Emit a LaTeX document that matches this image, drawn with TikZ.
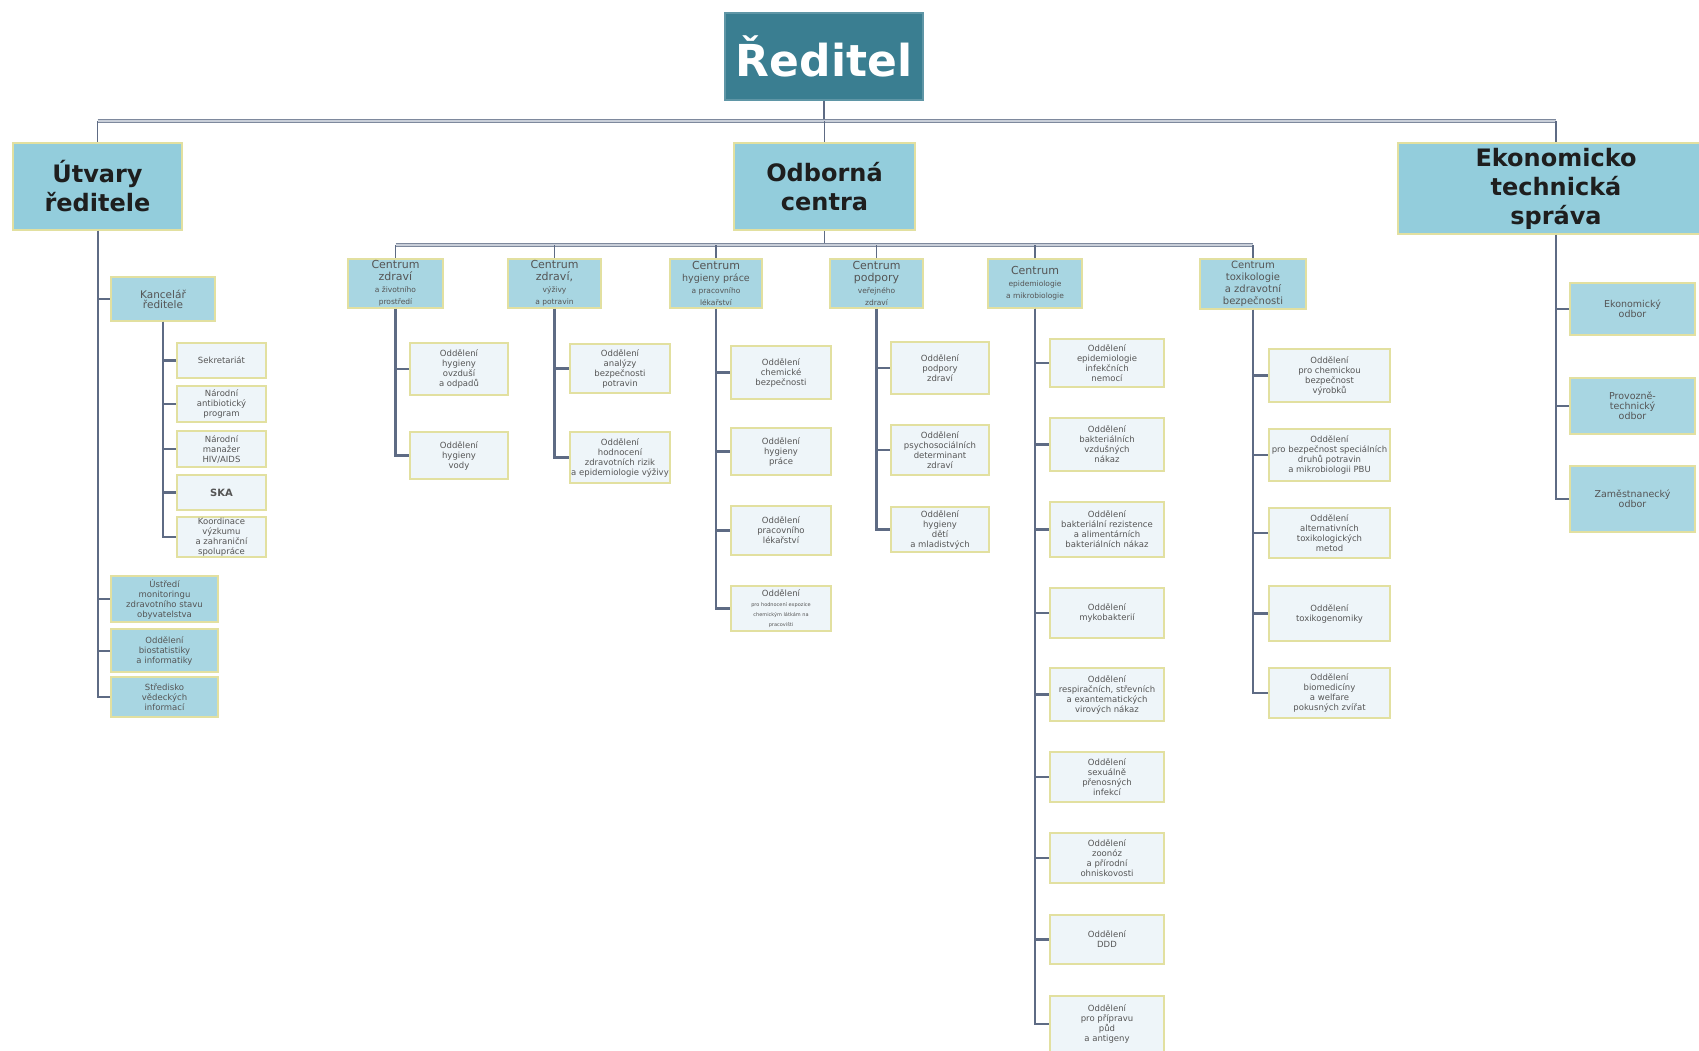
\documentclass[tikz,border=0pt]{standalone}
\usepackage{fontspec}
\setmainfont{DejaVu Sans}
\newcommand\myfs[2]{\fontsize{#1}{#2}\selectfont}
\definecolor{topfill}{HTML}{3A7E91}
\definecolor{topedge}{HTML}{5F96A6}
\definecolor{lvfill}{HTML}{93CDDC}
\definecolor{midfill}{HTML}{A8D6E2}
\definecolor{leaffill}{HTML}{EEF5F9}
\definecolor{edgeclr}{HTML}{E2E0A0}
\definecolor{lineclr}{HTML}{5E6B84}
\definecolor{busin}{HTML}{C9CFD9}
\definecolor{darktext}{HTML}{1E1E1E}
\definecolor{greytext}{HTML}{555555}
\tikzset{
  box/.style={draw=edgeclr, line width=1.8pt, inner sep=0pt, align=center},
  topbox/.style={box, draw=topedge, fill=topfill, text=white, font=\myfs{44}{50}\bfseries},
  lvbox/.style={box, fill=lvfill, text=darktext, font=\myfs{24}{29}\bfseries},
  cbox/.style={box, fill=midfill, text=greytext},
  midbox/.style={box, fill=midfill, text=greytext, font=\myfs{8.5}{10}},
  leaf/.style={box, fill=leaffill, text=greytext, font=\myfs{8.5}{10}},
  conn/.style={draw=lineclr, line width=2.8pt},
  sideconn/.style={draw=lineclr, line width=2pt},
  thinconn/.style={draw=lineclr, line width=1.2pt},
  bus/.style={draw=lineclr!80, line width=3.6pt},
  businner/.style={draw=busin, line width=1.1pt},
}
\newcommand\bx[5]{\node[#1, minimum width=#4, minimum height=#5] (#2) at (#3) }
\begin{document}
\begin{tikzpicture}[x=1pt,y=-1pt]
\useasboundingbox (0,0) rectangle (1699,1051);
\clip (0,0) rectangle (1699,1051);
\fill[white] (0,0) rectangle (1699,1051);

% ---------- top ----------
\bx{topbox}{reditel}{824,56.5}{198}{87}{Ředitel};
\bx{lvbox}{utvary}{97.5,186.5}{169}{87}{Útvary\\ředitele};
\bx{lvbox}{odborna}{824.5,186.5}{181}{87}{Odborná\\centra};
\bx{lvbox}{ekt}{1556,188.5}{316}{91}{Ekonomicko\\technická\\správa};

\coordinate (bus) at (0,121);
\coordinate (bus2) at (0,245);

% ---------- centres ----------
\bx{cbox}{c1}{395.5,283.5}{95}{49}{\myfs{11}{12}Centrum\\\myfs{11}{12}zdraví\\\myfs{7.5}{10}a životního\\\myfs{7.5}{10}prostředí};
\bx{cbox}{c2}{554.5,283.5}{93}{49}{\myfs{11}{12}Centrum\\\myfs{11}{12}zdraví,\\\myfs{7.5}{10}výživy\\\myfs{7.5}{10}a potravin};
\bx{cbox}{c3}{716,283.5}{92}{49}{\myfs{11}{12}Centrum\\\myfs{9.5}{12}hygieny práce\\\myfs{7.5}{10}a pracovního\\\myfs{7.5}{10}lékařství};
\bx{cbox}{c4}{876.5,283.5}{93}{49}{\myfs{11}{12}Centrum\\\myfs{11}{12}podpory\\\myfs{7.5}{10}veřejného\\\myfs{7.5}{10}zdraví};
\bx{cbox}{c5}{1035,283.5}{94}{49}{\myfs{11}{13}Centrum\\\myfs{7.5}{10}epidemiologie\\\myfs{7.5}{10}a mikrobiologie};
\bx{cbox}{c6}{1253,284}{106}{50}{\myfs{10}{11.7}Centrum\\\myfs{10}{11.7}toxikologie\\\myfs{10}{11.7}a zdravotní\\\myfs{10}{11.7}bezpečnosti};

% ---------- útvary ředitele ----------
\bx{midbox}{kanc}{163,299}{104}{44}{\myfs{10.5}{12.5}Kancelář\\\myfs{10.5}{12.5}ředitele};
\bx{leaf}{sekr}{221.5,360.5}{89}{35}{Sekretariát};
\bx{leaf}{nap}{221.5,404}{89}{36}{Národní\\antibiotický\\program};
\bx{leaf}{hiv}{221.5,449}{89}{36}{Národní\\manažer\\HIV/AIDS};
\bx{leaf}{ska}{221.5,492.5}{89}{35}{\myfs{10}{12}\bfseries SKA};
\bx{leaf}{koord}{221.5,537}{89}{40}{Koordinace\\výzkumu\\a zahraniční\\spolupráce};
\bx{midbox}{ustr}{164.5,599}{107}{46}{Ústředí\\monitoringu\\zdravotního stavu\\obyvatelstva};
\bx{midbox}{biost}{164.5,650.5}{107}{43}{Oddělení\\biostatistiky\\a informatiky};
\bx{midbox}{svi}{164.5,697}{107}{40}{Středisko\\vědeckých\\informací};

% ---------- centre children ----------
\bx{leaf}{c1a}{459,369}{98}{52}{Oddělení\\hygieny\\ovzduší\\a odpadů};
\bx{leaf}{c1b}{459,455.5}{98}{47}{Oddělení\\hygieny\\vody};

\bx{leaf}{c2a}{620,368.5}{100}{49}{Oddělení\\analýzy\\bezpečnosti\\potravin};
\bx{leaf}{c2b}{620,457.5}{100}{51}{Oddělení\\hodnocení\\zdravotních rizik\\a epidemiologie výživy};

\bx{leaf}{c3a}{781,372.5}{100}{53}{Oddělení\\chemické\\bezpečnosti};
\bx{leaf}{c3b}{781,451.5}{100}{47}{Oddělení\\hygieny\\práce};
\bx{leaf}{c3c}{781,530.5}{100}{49}{Oddělení\\pracovního\\lékařství};
\bx{leaf}{c3d}{781,608.5}{100}{45}{Oddělení\\\myfs{5}{6}pro hodnocení expozice\\\myfs{5}{6}chemickým látkám na\\\myfs{5}{6}pracovišti};

\bx{leaf}{c4a}{940,368}{98}{52}{Oddělení\\podpory\\zdraví};
\bx{leaf}{c4b}{940,450}{98}{50}{Oddělení\\psychosociálních\\determinant\\zdraví};
\bx{leaf}{c4c}{940,529.5}{98}{45}{Oddělení\\hygieny\\dětí\\a mladistvých};

\bx{leaf}{c5a}{1107,363}{114}{48}{Oddělení\\epidemiologie\\infekčních\\nemocí};
\bx{leaf}{c5b}{1107,444.5}{114}{53}{Oddělení\\bakteriálních\\vzdušných\\nákaz};
\bx{leaf}{c5c}{1107,529.5}{114}{55}{Oddělení\\bakteriální rezistence\\a alimentárních\\bakteriálních nákaz};
\bx{leaf}{c5d}{1107,613}{114}{50}{Oddělení\\mykobakterií};
\bx{leaf}{c5e}{1107,694.5}{114}{53}{Oddělení\\respiračních, střevních\\a exantematických\\virových nákaz};
\bx{leaf}{c5f}{1107,777}{114}{50}{Oddělení\\sexuálně\\přenosných\\infekcí};
\bx{leaf}{c5g}{1107,858}{114}{50}{Oddělení\\zoonóz\\a přírodní\\ohniskovosti};
\bx{leaf}{c5h}{1107,939.5}{114}{49}{Oddělení\\DDD};
\bx{leaf}{c5i}{1107,1024}{114}{56}{Oddělení\\pro přípravu\\půd\\a antigeny};

\bx{leaf}{c6a}{1329.5,375.5}{121}{53}{Oddělení\\pro chemickou\\bezpečnost\\výrobků};
\bx{leaf}{c6b}{1329.5,455}{121}{52}{Oddělení\\pro bezpečnost speciálních\\druhů potravin\\a mikrobiologii PBU};
\bx{leaf}{c6c}{1329.5,533}{121}{50}{Oddělení\\alternativních\\toxikologických\\metod};
\bx{leaf}{c6d}{1329.5,613.5}{121}{55}{Oddělení\\toxikogenomiky};
\bx{leaf}{c6e}{1329.5,693}{121}{50}{Oddělení\\biomedicíny\\a welfare\\pokusných zvířat};

% ---------- EKT children ----------
\bx{midbox}{eko}{1632.5,309}{125}{52}{\myfs{9.5}{11.5}Ekonomický\\\myfs{9.5}{11.5}odbor};
\bx{midbox}{prov}{1632.5,406}{125}{56}{\myfs{9.5}{11.5}Provozně-\\\myfs{9.5}{11.5}technický\\\myfs{9.5}{11.5}odbor};
\bx{midbox}{zam}{1632.5,499}{125}{66}{\myfs{9.5}{11.5}Zaměstnanecký\\\myfs{9.5}{11.5}odbor};

% ---------- connectors: top ----------
\draw[thinconn] (reditel.south) -- (reditel.south |- bus);
\draw[bus] (utvary.north |- bus) -- (ekt.north |- bus);
\draw[businner] (utvary.north |- bus) -- (ekt.north |- bus);
\draw[thinconn] (utvary.north |- bus) -- (utvary.north);
\draw[thinconn] (odborna.north |- bus) -- (odborna.north);
\draw[thinconn] (ekt.north |- bus) -- (ekt.north);

\draw[thinconn] (odborna.south) -- (odborna.south |- bus2);
\draw[bus] (c1.north |- bus2) -- (c6.north |- bus2);
\draw[businner] (c1.north |- bus2) -- (c6.north |- bus2);
\foreach \c in {c1,c2,c3,c4,c5,c6}
  \draw[thinconn] (\c.north |- bus2) -- (\c.north);

% ---------- connectors: branches ----------
\foreach \n in {kanc,ustr,biost,svi}
  \draw[sideconn] (utvary.south) |- (\n.west);
\foreach \n in {sekr,nap,hiv,ska,koord}
  \draw[conn] (kanc.south) |- (\n.west);
\foreach \n in {c1a,c1b}
  \draw[conn] (c1.south) |- (\n.west);
\foreach \n in {c2a,c2b}
  \draw[conn] (c2.south) |- (\n.west);
\foreach \n in {c3a,c3b,c3c,c3d}
  \draw[conn] (c3.south) |- (\n.west);
\foreach \n in {c4a,c4b,c4c}
  \draw[conn] (c4.south) |- (\n.west);
\foreach \n in {c5a,c5b,c5c,c5d,c5e,c5f,c5g,c5h,c5i}
  \draw[conn] (c5.south) |- (\n.west);
\foreach \n in {c6a,c6b,c6c,c6d,c6e}
  \draw[conn] (c6.south) |- (\n.west);
\foreach \n in {eko,prov,zam}
  \draw[sideconn] (ekt.south) |- (\n.west);
\end{tikzpicture}
\end{document}
